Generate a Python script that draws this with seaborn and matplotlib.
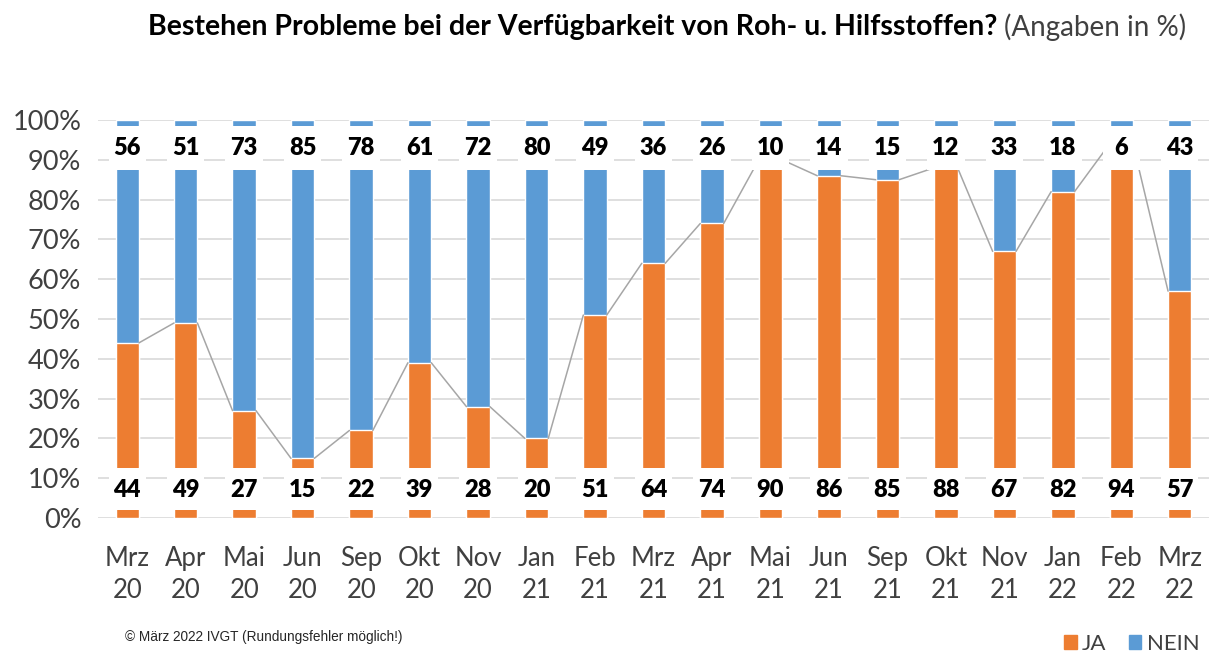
import numpy as np
import pandas as pd
import matplotlib.pyplot as plt
import seaborn as sns
from matplotlib.patches import Rectangle, Patch

# Daten
monate = ['Mrz\n20', 'Apr\n20', 'Mai\n20', 'Jun\n20', 'Sep\n20', 'Okt\n20', 'Nov\n20', 'Jan\n21', 'Feb\n21',
          'Mrz\n21', 'Apr\n21', 'Mai\n21', 'Jun\n21', 'Sep\n21', 'Okt\n21', 'Nov\n21', 'Jan\n22', 'Feb\n22', 'Mrz\n22']
ja = [44, 49, 27, 15, 22, 39, 28, 20, 51, 64, 74, 90, 86, 85, 88, 67, 82, 94, 57]
nein = [56, 51, 73, 85, 78, 61, 72, 80, 49, 36, 26, 10, 14, 15, 12, 33, 18, 6, 43]

orange = '#ED7D31'
blau = '#5B9BD5'

df = pd.DataFrame({'monat': monate, 'ja': ja, 'nein': nein})
df['gesamt'] = df['ja'] + df['nein']

sns.set_style('white')
plt.rcParams['font.family'] = ['Lato', 'DejaVu Sans']

W, H = 1209, 654
fig = plt.figure(figsize=(W / 100, H / 100), dpi=100)
ax = fig.add_axes([98 / W, (H - 518) / H, (W - 98) / W, (518 - 120) / H])

bw = 0.4
sns.barplot(data=df, x='monat', y='gesamt', color=blau, width=bw, saturation=1, ax=ax, zorder=2)
sns.barplot(data=df, x='monat', y='ja', color=orange, width=bw, saturation=1, ax=ax, zorder=2)

# Reihenlinien (wie in Excel)
n = len(ja)
for i in range(n - 1):
    ax.plot([i + bw / 2, i + 1 - bw / 2], [ja[i], ja[i + 1]], color='#A6A6A6', lw=1.1, zorder=2.5)

# weisse Beschriftungsfelder
kw = 0.64
for i in range(n):
    ax.add_patch(Rectangle((i - kw / 2, 1.9), kw, 10.6, facecolor='white', edgecolor='none', zorder=3))
    ax.add_patch(Rectangle((i - kw / 2, 87.4), kw, 11.1, facecolor='white', edgecolor='none', zorder=3))
    ax.text(i, 7.1, str(ja[i]), ha='center', va='center', fontsize=17, fontweight='heavy', color='black', zorder=4)
    ax.text(i, 93.0, str(nein[i]), ha='center', va='center', fontsize=17, fontweight='heavy', color='black', zorder=4)

ax.set_xlim(-0.5, n - 0.5)
ax.set_ylim(0, 100)
ax.set_yticks(np.arange(0, 101, 10))
ax.set_yticklabels([f'{v}%' for v in range(0, 101, 10)])
ax.yaxis.grid(True, color='#D9D9D9', lw=1.2, zorder=0)
ax.set_axisbelow(True)
ax.set_xlabel('')
ax.set_ylabel('')
for s in ax.spines.values():
    s.set_visible(False)
ax.tick_params(axis='y', length=0, labelsize=19.5, labelcolor='#404040', pad=12)
ax.tick_params(axis='x', length=0, labelsize=18.5, labelcolor='#404040', pad=20)
for lab in ax.get_xticklabels():
    lab.set_linespacing(1.35)

# Titel
t1 = fig.text(148 / W, 1 - 27 / H, 'Bestehen Probleme bei der Verfügbarkeit von Roh- u. Hilfsstoffen?',
              fontsize=20.5, fontweight='bold', color='black', va='center', ha='left')
fig.canvas.draw()
bb = t1.get_window_extent()
fig.text(bb.x1 / W + 7 / W, 1 - 27 / H, '(Angaben in %)', fontsize=20, color='#404040', va='center', ha='left')

# Fussnote
fig.text(125 / W, 1 - 637 / H, '© März 2022 IVGT (Rundungsfehler möglich!)', fontsize=9.8,
         family='Liberation Sans', color='#262626', va='center', ha='left')

# Legende
fig.legend(handles=[Patch(color=orange, label='JA'), Patch(color=blau, label='NEIN')],
           loc='center right', bbox_to_anchor=(1.003, 1 - 644 / H), ncol=2, frameon=False,
           fontsize=16, handlelength=0.55, handleheight=0.55, handletextpad=0.25, columnspacing=1.0,
           labelcolor='#404040', borderpad=0.1)

plt.savefig('out.png', dpi=100)
